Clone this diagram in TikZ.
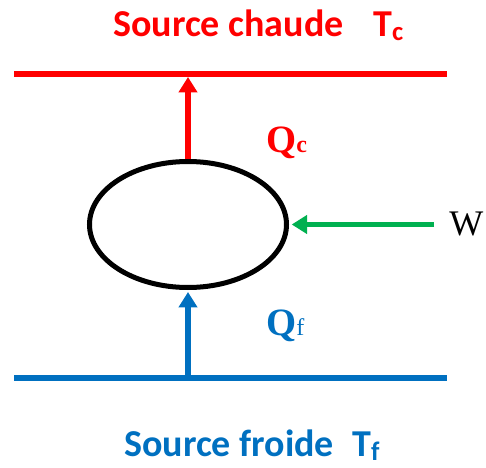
\documentclass[tikz,border=0pt]{standalone}
\usepackage{fontspec}
\setmainfont{Liberation Serif}
\newfontfamily\calib{Carlito}
\usetikzlibrary{arrows.meta,shapes.geometric}
\definecolor{hotred}{HTML}{FF0000}
\definecolor{coldblue}{HTML}{0070C0}
\definecolor{workgreen}{HTML}{00B050}
\newcommand{\lowsub}[1]{\raisebox{-3.5pt}{\fontsize{20}{20}\selectfont #1}}
\begin{document}
\begin{tikzpicture}[x=0.75pt,y=-0.75pt,
  reservoir/.style={line width=4.3pt},
  flow/.style={line width=4.3pt,-{Triangle[width=13.5pt,length=11.5pt]}},
  srclabel/.style={inner sep=0pt,anchor=base west,font=\calib\bfseries\fontsize{28.5}{32}\selectfont},
  qlabel/.style={inner sep=0pt,anchor=base west,font=\bfseries\fontsize{29}{32}\selectfont},
  engine/.style={draw=black,line width=3.75pt,ellipse,inner sep=0pt,minimum width=147.75pt,minimum height=94.5pt}]
\useasboundingbox (0,0) rectangle (486,468);
% reservoirs
\coordinate (hl) at (14,74);
\coordinate (hr) at (447,74);
\coordinate (cl) at (14,378);
\coordinate (cr) at (447,378);
\draw[reservoir,hotred] (hl) -- (hr);
\draw[reservoir,coldblue] (cl) -- (cr);
% engine
\node[engine] (eng) at (188,224.5) {};
% flows
\coordinate (hotpt) at (188,77);
\coordinate (coldpt) at (188,378);
\coordinate (wpt) at (434,224.5);
\draw[flow,hotred] (eng.north) -- (hotpt);
\draw[flow,coldblue] (coldpt) -- ([yshift=-1.5]eng.south);
\draw[flow,workgreen] (wpt) -- ([xshift=2]eng.east);
% labels
\node[srclabel,text=hotred] (hotname) at (113,36) {Source chaude};
\node[srclabel,text=hotred] (hotT) at (373,36) {T\lowsub{c}};
\node[srclabel,text=coldblue] (coldname) at (124,456) {Source froide};
\node[srclabel,text=coldblue] (coldT) at (352,456) {T\lowsub{f}};
\node[qlabel,text=hotred] (qc) at (266,152) {Q{\fontsize{18}{18}\selectfont c}};
\node[qlabel,text=coldblue] (qf) at (266,335) {Q{\fontsize{18}{18}\selectfont\mdseries f}};
\node[inner sep=0pt,anchor=base west,font=\fontsize{27}{30}\selectfont] (w) at (449,235) {W};
\end{tikzpicture}
\end{document}
